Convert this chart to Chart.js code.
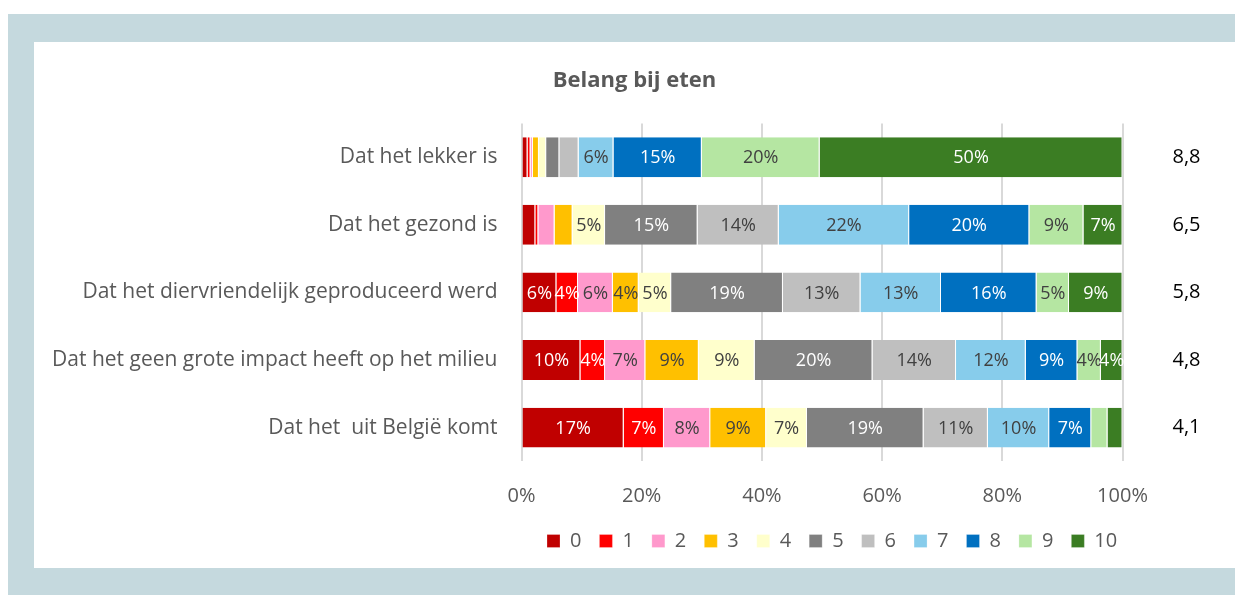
<!DOCTYPE html>
<html>
<head>
<meta charset="utf-8">
<script src="https://cdn.jsdelivr.net/npm/chart.js@4.4.1/dist/chart.umd.min.js"></script>
<style>
  html, body { margin: 0; padding: 0; background: #fff; }
  #frame { position: absolute; left: 8px; top: 14px; width: 1227px; height: 581px; background: #C5D9DE; }
  #panel { position: absolute; left: 34px; top: 42px; width: 1201px; height: 526px; background: #fff; }
</style>
</head>
<body>
<div id="frame"></div>
<div id="panel"><canvas id="myChart"></canvas></div>
<script>
var categories = [
  "Dat het lekker is",
  "Dat het gezond is",
  "Dat het diervriendelijk geproduceerd werd",
  "Dat het geen grote impact heeft op het milieu",
  "Dat het  uit België komt",
];
var averages = ["8,8", "6,5", "5,8", "4,8", "4,1"];
var scores = ["0", "1", "2", "3", "4", "5", "6", "7", "8", "9", "10"];
var xTicks = [0, 20, 40, 60, 80, 100];

// share (%) per score, one value per category
var score0 = [1.0, 2.3, 5.8, 9.8, 17.0];
var score1 = [0.5, 0.5, 3.6, 4.1, 6.7];
var score2 = [0.4, 2.7, 5.8, 6.7, 7.7];
var score3 = [1.0, 3.0, 4.3, 8.9, 9.3];
var score4 = [1.2, 5.4, 5.4, 9.3, 6.8];
var score5 = [2.2, 15.4, 18.6, 19.6, 19.4];
var score6 = [3.2, 13.5, 12.9, 13.9, 10.7];
var score7 = [5.8, 21.7, 13.4, 11.6, 10.2];
var score8 = [14.7, 20.0, 15.9, 8.6, 7.0];
var score9 = [19.6, 9.0, 5.4, 3.9, 2.7];
var score10 = [50.4, 6.5, 8.9, 3.6, 2.5];

var scoreData = [score0, score1, score2, score3, score4, score5, score6, score7, score8, score9, score10];
var colors = ["#C00000", "#FF0000", "#FF99CC", "#FFC000", "#FFFFCC", "#808080",
              "#BFBFBF", "#87CCEB", "#0070C0", "#B5E6A2", "#3B7D23"];
var labelColors = ["#fff", "#fff", "#404040", "#404040", "#404040", "#fff",
                   "#404040", "#404040", "#fff", "#404040", "#fff"];

var FONT = "'Open Sans'";

// percentage labels inside the segments
var barLabels = {
  id: "barLabels",
  afterDatasetsDraw: function (chart) {
    var ctx = chart.ctx;
    ctx.save();
    ctx.font = "18px " + FONT;
    ctx.textAlign = "center";
    ctx.textBaseline = "middle";
    chart.data.datasets.forEach(function (ds, i) {
      chart.getDatasetMeta(i).data.forEach(function (bar, j) {
        var v = ds.data[j];
        if (v < 3.5) return;
        var p = bar.getCenterPoint();
        ctx.fillStyle = labelColors[i];
        ctx.fillText(Math.round(v) + "%", p.x, p.y + 1);
      });
    });
    ctx.restore();
  },
};

// put the legend under the plot like the original
var moveLegend = {
  id: "moveLegend",
  afterLayout: function (chart) {
    var lg = chart.legend;
    var w = lg.right - lg.left;
    var h = lg.bottom - lg.top;
    lg.left = 513 - 18;
    lg.right = lg.left + w;
    lg.top = 471;
    lg.bottom = lg.top + h;
  },
};

var ctx = document.getElementById("myChart").getContext("2d");
var myChart = new Chart(ctx, {
  type: "bar",
  data: {
    labels: categories,
    datasets: scores.map(function (s, i) {
      return {
        label: s,
        data: scoreData[i],
        backgroundColor: colors[i],
        borderColor: "#fff",
        borderWidth: { right: 1 },
        borderSkipped: false,
        categoryPercentage: 1,
        barPercentage: 0.59,
      };
    }),
  },
  options: {
    indexAxis: "y",
    responsive: true,
    maintainAspectRatio: false,
    animation: false,
    devicePixelRatio: 1,
    layout: { padding: 0 },
    scales: {
      x: {
        stacked: true,
        min: 0,
        max: 100,
        afterBuildTicks: function (scale) {
          scale.ticks = xTicks.map(function (v) { return { value: v }; });
        },
        afterFit: function (scale) {
          scale.height = scale.chart.height - 419.4 - scale.chart.legend.height;
        },
        grid: { color: "#D9D9D9", lineWidth: 2, drawTicks: false },
        border: { display: false },
        ticks: {
          padding: 23,
          color: "#595959",
          font: { family: FONT, size: 20 },
          callback: function (v) { return v + "%"; },
        },
      },
      y: {
        stacked: true,
        afterFit: function (scale) { scale.width = 487.5; },
        grid: { display: false, drawTicks: false },
        border: { display: false },
        ticks: { padding: 24, color: "#595959", font: { family: FONT, size: 21 } },
      },
      y2: {
        type: "category",
        axis: "y",
        position: "right",
        labels: averages,
        offset: true,
        afterFit: function (scale) { scale.width = 112.5; },
        grid: { display: false, drawTicks: false },
        border: { display: false },
        ticks: { padding: 50, color: "#000", font: { family: FONT, size: 20 } },
      },
    },
    plugins: {
      title: {
        display: true,
        text: "Belang bij eten",
        color: "#595959",
        font: { family: FONT, size: 22, weight: "bold" },
        padding: { top: 26, bottom: 29 },
      },
      legend: {
        position: "bottom",
        align: "start",
        labels: {
          boxWidth: 13,
          boxHeight: 13,
          padding: 18,
          color: "#595959",
          font: { family: FONT, size: 20 },
        },
      },
      tooltip: { enabled: false },
    },
  },
  plugins: [barLabels, moveLegend],
});
</script>
</body>
</html>
